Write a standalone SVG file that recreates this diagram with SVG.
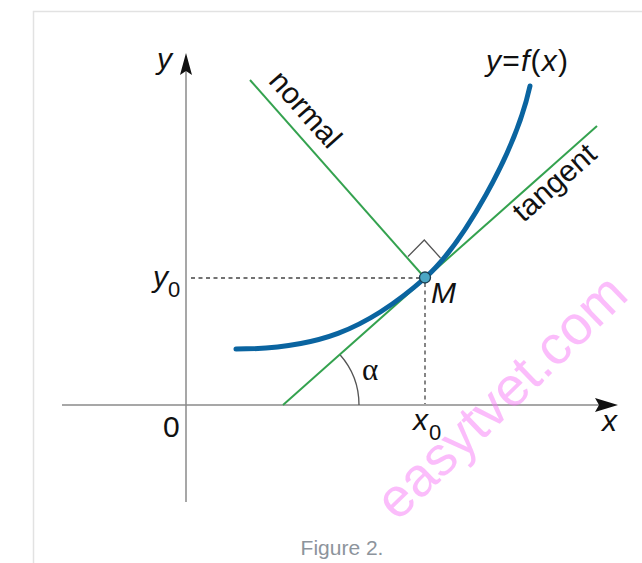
<svg xmlns="http://www.w3.org/2000/svg" width="642" height="563" viewBox="0 0 642 563">
<style>
.lbl{font-family:"Liberation Sans",Arial,sans-serif;font-size:30px;fill:#111}
.it{font-style:italic}
.sub{font-size:22px}
.green{stroke:#34a24f;stroke-width:2;fill:none}
.axis{stroke:#8a8a8a;stroke-width:1.5;fill:none}
.dash{stroke:#444;stroke-width:1.3;stroke-dasharray:4 3.5;fill:none}
.thin{stroke:#555;stroke-width:1.3;fill:none}
</style>
<rect width="642" height="563" fill="#fff"/>
<path d="M33.5,563 V11.5 H642" fill="none" stroke="#e2e2e2" stroke-width="1.5"/>
<g id="axes">
<line class="axis" x1="186" y1="502" x2="186" y2="70"/>
<path d="M186,53 L180,75 L186,71 L192,75 Z" fill="#111"/>
<line class="axis" x1="62" y1="405" x2="600" y2="405"/>
<path d="M618,405 L595,398 L599,405 L595,412 Z" fill="#111"/>
</g>
<g id="guides">
<line class="dash" x1="191" y1="278" x2="420" y2="278"/>
<line class="dash" x1="425" y1="283" x2="425" y2="404"/>
<path class="thin" d="M359,405 A76,76 0 0 0 339.8,354.5"/>
<polyline class="thin" points="408,256.5 424.3,240 440.5,258"/>
</g>
<g id="lines">
<line class="green" x1="283" y1="405" x2="597" y2="126"/>
<line class="green" x1="250" y1="80" x2="425" y2="278"/>
</g>
<g id="curve">
<path d="M236,349 C316,349 365,331 425,278 C462,245 515,154 530,86" fill="none" stroke="#0a64a0" stroke-width="5" stroke-linecap="round"/>
</g>
<g id="point-M">
<circle cx="425" cy="277.5" r="5.5" fill="#4aa6c4" stroke="#1d3f52" stroke-width="1.3"/>
</g>
<g id="labels">
<text class="lbl it" x="157" y="69">y</text>
<text class="lbl" x="486" y="71" textLength="82"><tspan class="it">y</tspan>=<tspan class="it">f</tspan>(<tspan class="it">x</tspan>)</text>
<text class="lbl" x="298" y="116" text-anchor="middle" transform="rotate(48.5 298 116)">normal</text>
<text class="lbl" x="561" y="190" text-anchor="middle" transform="rotate(-41.6 561 190)">tangent</text>
<text class="lbl it" x="153" y="287">y</text>
<text class="lbl sub" x="168" y="297">0</text>
<text class="lbl it" x="431" y="303">M</text>
<text class="lbl" x="163" y="437">0</text>
<text class="lbl it" x="413" y="430">x</text>
<text class="lbl sub" x="429" y="440">0</text>
<text class="lbl it" x="602" y="431">x</text>
<text x="362" y="380" font-family="'Liberation Serif','Times New Roman',serif" font-size="31" fill="#111">α</text>
<text x="342" y="555" text-anchor="middle" font-family="'Liberation Sans',Arial,sans-serif" font-size="21" fill="#8d949c">Figure 2.</text>
</g>
<g id="watermark">
<text x="514" y="410" text-anchor="middle" transform="rotate(-44 514 410)" font-family="'Liberation Sans',Arial,sans-serif" font-size="55" fill="#f77cf7" fill-opacity="0.5">easytvet.com</text>
</g>
</svg>
